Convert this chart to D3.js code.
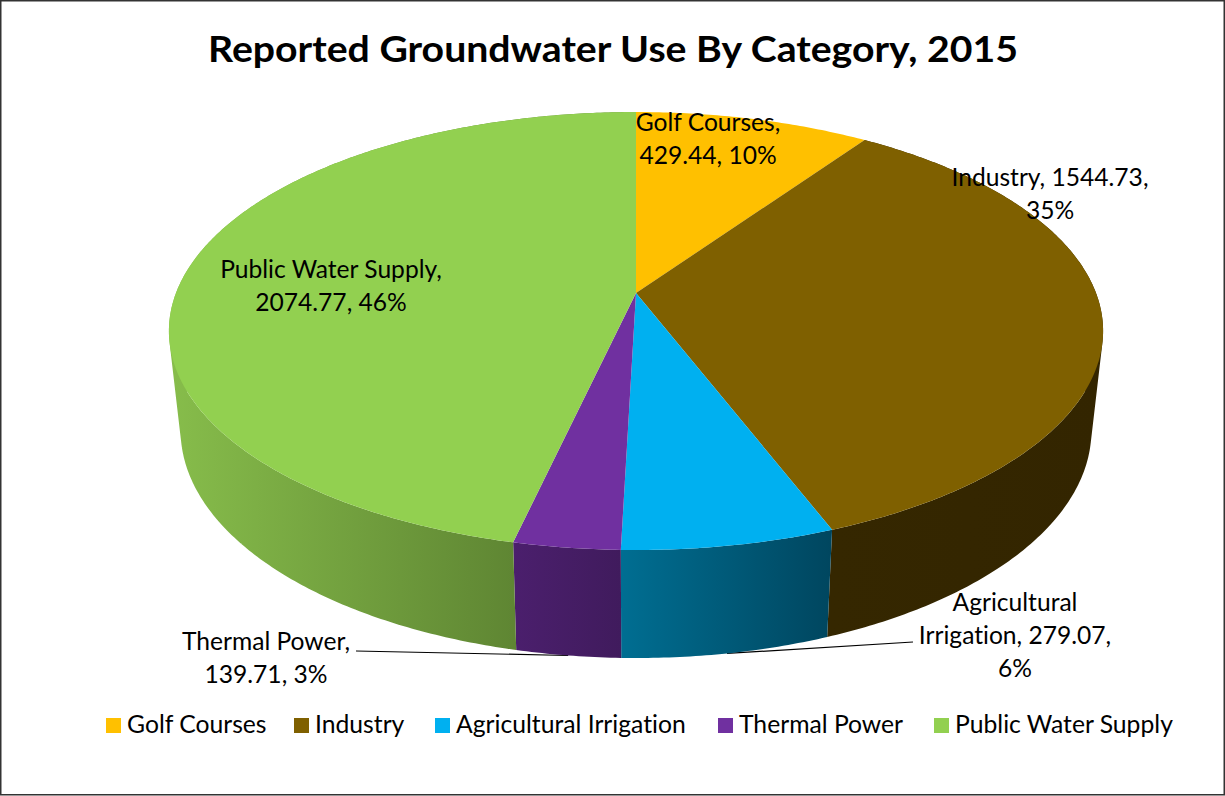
<!DOCTYPE html>
<html>
<head>
<meta charset="utf-8">
<script src="https://cdn.jsdelivr.net/npm/d3@7"></script>
<style>
  html, body { margin: 0; padding: 0; background: #fff; }
  svg { display: block; }
  text { font-family: Lato, "Open Sans", sans-serif; fill: #000; font-variant-ligatures: none; }
</style>
</head>
<body>
<div id="chart"></div>
<script>
// Reported groundwater use
var categories = ['Golf Courses', 'Industry', 'Agricultural Irrigation', 'Thermal Power', 'Public Water Supply'];
var values = [429.44, 1544.73, 279.07, 139.71, 2074.77];
var topColors = ['#ffc000', '#7f6000', '#00b0f0', '#7030a0', '#92d050'];
var sideLeft = ['#7f6000', '#352700', '#006e92', '#4b1f6d', '#87bd4b'];
var sideRight = ['#7f6000', '#332500', '#00465f', '#401b5d', '#5f8633'];
var labelLines = [
  ['Golf Courses,', '429.44, 10%'],
  ['Industry, 1544.73,', '35%'],
  ['Agricultural', 'Irrigation, 279.07,', '6%'],
  ['Thermal Power,', '139.71, 3%'],
  ['Public Water Supply,', '2074.77, 46%']
];
var labelX = [708, 1050, 1015, 266, 331];
var labelY = [131, 186, 611, 650, 278];
var legendX = [106, 294, 435, 718, 934];

var width = 1225, height = 796;

var svg = d3.select('#chart').append('svg')
  .attr('width', width)
  .attr('height', height);

svg.append('rect')
  .attr('x', 0.75).attr('y', 0.75)
  .attr('width', width - 1.5).attr('height', height - 2)
  .attr('fill', '#fff')
  .attr('stroke', '#333')
  .attr('stroke-width', 1.5);

// perspective pie: a circle seen through a simple projection
var cx = 636, cy = 293, rx = 460, ry = 212.4, tilt = 0.1736;

var project = function(angle) {
  var u = Math.sin(angle), v = -Math.cos(angle);
  var w = 1 - tilt * v;
  return [cx + rx * u / w, cy + ry * v / w];
};

// same rim point on the underside of the pie
var lower = function(p) {
  return [cx + (p[0] - cx) * 0.975, p[1] + 86 + 0.04 * p[1]];
};

var rim = function(a0, a1) {
  var n = Math.max(2, Math.ceil((a1 - a0) / 0.01));
  return d3.range(n + 1).map(function(i) {
    return project(a0 + (a1 - a0) * i / n);
  });
};

var slices = d3.pie().sort(null).value(function(d) { return d; })(values);
var line = d3.line();
var defs = svg.append('defs');

// leader lines run from the label to the slice's lower rim, behind the pie
var mid = function(s) { return lower(project((s.startAngle + s.endAngle) / 2)); };
[[2, [913, 642]], [3, [356, 651]]].forEach(function(l) {
  svg.append('path')
    .attr('d', line([l[1], mid(slices[l[0]])]))
    .attr('fill', 'none')
    .attr('stroke', '#000')
    .attr('stroke-width', 1.2);
});

// sides first, the top faces cover whatever is behind
slices.forEach(function(s, i) {
  if (i === 0) return; // golf slice is at the back, side never shows
  var upper = rim(s.startAngle, s.endAngle);
  // gradient only spans the part of the rim facing the viewer
  var front = upper.filter(function(p) { return p[1] > 331; });
  var xs = front.map(function(p) { return p[0]; });
  var grad = defs.append('linearGradient')
    .attr('id', 'side' + i)
    .attr('gradientUnits', 'userSpaceOnUse')
    .attr('x1', d3.min(xs)).attr('x2', d3.max(xs))
    .attr('y1', 0).attr('y2', 0);
  grad.append('stop').attr('offset', 0).attr('stop-color', sideLeft[i]);
  grad.append('stop').attr('offset', 1).attr('stop-color', sideRight[i]);
  // one quad per rim step, all wound the same way or the overlaps cancel
  var d = '';
  for (var k = 0; k < upper.length - 1; k++) {
    var a = upper[k], b = upper[k + 1];
    var quad = [a, b, lower(b), lower(a)];
    if (d3.polygonArea(quad) < 0) quad.reverse();
    d += line(quad) + 'Z';
  }
  svg.append('path')
    .attr('d', d)
    .attr('fill', 'url(#side' + i + ')');
});

slices.forEach(function(s, i) {
  svg.append('path')
    .attr('d', line([[cx, cy]].concat(rim(s.startAngle, s.endAngle))) + 'Z')
    .attr('fill', topColors[i]);
});

svg.append('text')
  .attr('x', 613).attr('y', 62)
  .attr('text-anchor', 'middle')
  .attr('font-size', 37)
  .attr('font-weight', 700)
  .attr('textLength', 810)
  .attr('lengthAdjust', 'spacingAndGlyphs')
  .text('Reported Groundwater Use By Category, 2015');

labelLines.forEach(function(lines, i) {
  lines.forEach(function(t, j) {
    svg.append('text')
      .attr('x', labelX[i]).attr('y', labelY[i] + j * 33)
      .attr('text-anchor', 'middle')
      .attr('font-size', 24.6)
      .text(t);
  });
});

var legend = svg.selectAll('.legend').data(categories).enter().append('g')
  .attr('class', 'legend')
  .attr('transform', function(d, i) { return 'translate(' + legendX[i] + ',718)'; });
legend.append('rect')
  .attr('width', 15).attr('height', 15)
  .attr('fill', function(d, i) { return topColors[i]; });
legend.append('text')
  .attr('x', 21).attr('y', 15)
  .attr('font-size', 24.7)
  .text(function(d) { return d; });
</script>
</body>
</html>
